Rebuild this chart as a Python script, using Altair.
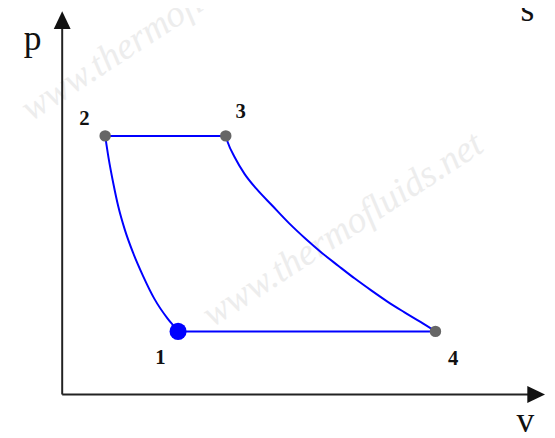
import altair as alt
import pandas as pd

# ---- data (v, p in arbitrary units) ----
STATE = ["1", "2", "3", "4"]
STATE_V = [2.94, 1.09, 4.15, 9.47]
STATE_P = [1.60, 6.56, 6.56, 1.60]

# compression 1 -> 2
COMP_V = [2.94, 2.86, 2.675, 2.34, 2.05, 1.80, 1.59, 1.425, 1.30, 1.175, 1.09]
COMP_P = [1.60, 1.70, 1.925, 2.425, 3.01, 3.59, 4.175, 4.76, 5.34, 6.01, 6.56]
# expansion 3 -> 4
EXP_V = [4.15, 4.20, 4.38, 4.63, 4.925, 5.34, 5.76, 6.175, 6.59, 7.01, 7.425, 7.84, 8.26, 8.675, 9.09, 9.47]
EXP_P = [6.56, 6.40, 6.01, 5.59, 5.22, 4.78, 4.34, 3.95, 3.59, 3.26, 2.94, 2.64, 2.35, 2.09, 1.84, 1.60]

# axis extents (arrowhead centres)
AXIS_V_END = 12.025
AXIS_P_END = 9.5
AXIS_LINE_V = 11.9
AXIS_LINE_P = 9.35

WATERMARK = "www.thermofluids.net"
WM_V = [7.125, 2.525]
WM_P = [4.175, 9.4]

# ---- tables ----
rows = []
for v, p in zip(COMP_V, COMP_P):
    rows.append({"seg": "12", "v": v, "p": p})
for v, p in zip([STATE_V[1], STATE_V[2]], [STATE_P[1], STATE_P[2]]):
    rows.append({"seg": "23", "v": v, "p": p})
for v, p in zip(EXP_V, EXP_P):
    rows.append({"seg": "34", "v": v, "p": p})
for v, p in zip([STATE_V[3], STATE_V[0]], [STATE_P[3], STATE_P[0]]):
    rows.append({"seg": "41", "v": v, "p": p})
lines_df = pd.DataFrame(rows)

states_df = pd.DataFrame({"state": STATE, "v": STATE_V, "p": STATE_P})
axes_df = pd.DataFrame({"v": [0, 0], "p": [0, 0], "v2": [AXIS_LINE_V, 0], "p2": [0, AXIS_LINE_P]})
xhead_df = pd.DataFrame({"v": [AXIS_V_END], "p": [0]})
yhead_df = pd.DataFrame({"v": [0], "p": [AXIS_P_END]})
wm_df = pd.DataFrame({"t": [WATERMARK] * len(WM_V), "v": WM_V, "p": WM_P})

XS = alt.Scale(domain=[-1.375, 12.3], nice=False, zero=False)
YS = alt.Scale(domain=[-1.025, 9.725], nice=False, zero=False)
X = alt.X("v:Q", scale=XS, axis=None)
Y = alt.Y("p:Q", scale=YS, axis=None)

SERIF = "Liberation Serif"

watermark = alt.Chart(wm_df).mark_text(
    font=SERIF, fontSize=38, fontStyle="italic", color="#ededed",
    angle=327, align="center", baseline="middle"
).encode(x=X, y=Y, text="t:N")

axes = alt.Chart(axes_df).mark_rule(color="#222222", strokeWidth=2).encode(
    x=X, y=Y, x2="v2:Q", y2="p2:Q"
)
xhead = alt.Chart(xhead_df).mark_point(
    shape="M1,0L-1,0.95L-1,-0.95Z", size=324, filled=True, color="#111111", opacity=1
).encode(x=X, y=Y)
yhead = alt.Chart(yhead_df).mark_point(
    shape="M0,-1L0.95,1L-0.95,1Z", size=324, filled=True, color="#111111", opacity=1
).encode(x=X, y=Y)

cycle = alt.Chart(lines_df).mark_line(
    color="#0000ff", strokeWidth=2, interpolate="monotone"
).encode(x=X, y=Y, detail="seg:N", order="v:Q")

grey_pts = alt.Chart(states_df).transform_filter("datum.state != '1'").mark_circle(
    size=135, color="#666666", opacity=1
).encode(x=X, y=Y)
blue_pt = alt.Chart(states_df).transform_filter("datum.state == '1'").mark_circle(
    size=300, color="#0000ff", opacity=1
).encode(x=X, y=Y)

offsets = {"1": (-18, 27), "2": (-21, -17), "3": (15, -24), "4": (18, 28)}
labels = []
for s, (dx, dy) in offsets.items():
    labels.append(
        alt.Chart(states_df).transform_filter(f"datum.state == '{s}'").mark_text(
            font=SERIF, fontSize=21, fontWeight="bold", color="#111111",
            dx=dx, dy=dy, align="center", baseline="middle"
        ).encode(x=X, y=Y, text="state:N")
    )

p_lab = alt.Chart(yhead_df).mark_text(
    font=SERIF, fontSize=36, color="#111111", dx=-30, dy=30, align="center",
    baseline="alphabetic"
).encode(x=X, y=Y, text=alt.value("p"))
v_lab = alt.Chart(xhead_df).mark_text(
    font=SERIF, fontSize=36, color="#111111", dx=-11, dy=38, align="center",
    baseline="alphabetic"
).encode(x=X, y=Y, text=alt.value("v"))
s_lab = alt.Chart(yhead_df.assign(v=AXIS_V_END)).mark_text(
    font=SERIF, fontSize=36, color="#111111", dx=-9, dy=1, align="center",
    baseline="alphabetic"
).encode(x=X, y=Y, text=alt.value("s"))

chart = alt.layer(
    watermark, axes, xhead, yhead, cycle, grey_pts, blue_pt, *labels, p_lab, v_lab, s_lab
).properties(
    width=547, height=430, autosize=alt.AutoSizeParams(type="none"), padding=0
).configure_view(stroke=None)

chart.save("out.html", embed_options={"renderer": "svg", "actions": False})
